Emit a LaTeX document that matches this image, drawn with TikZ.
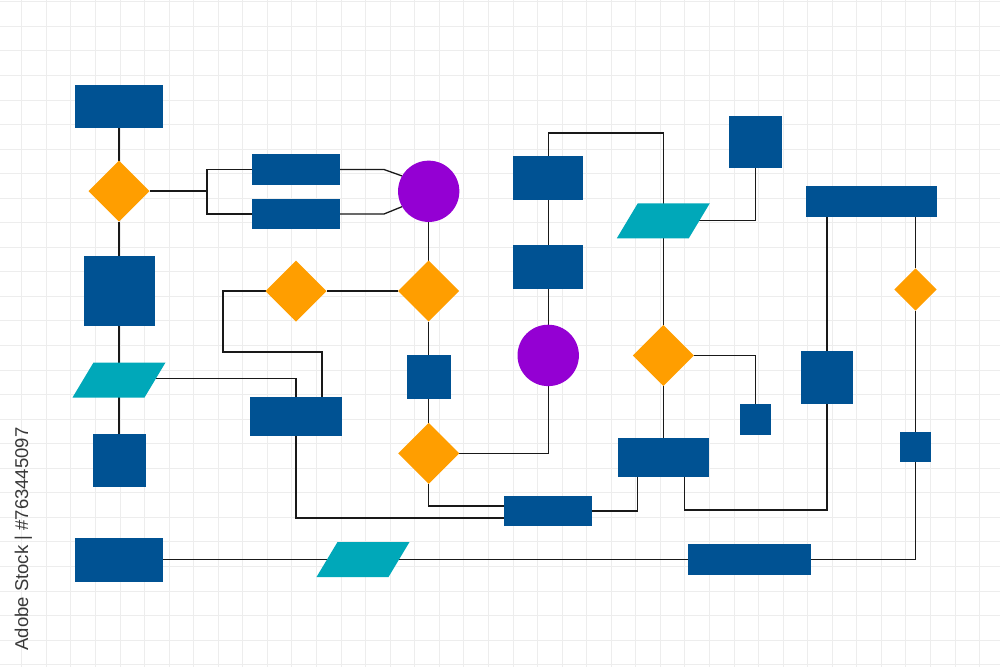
\documentclass[tikz,border=0pt]{standalone}
\usepackage{fontspec}
\setmainfont{Liberation Sans}
\usetikzlibrary{shapes.geometric,backgrounds}
\definecolor{fblue}{RGB}{0,82,147}
\definecolor{forange}{RGB}{255,158,0}
\definecolor{fpurple}{RGB}{148,0,211}
\definecolor{fteal}{RGB}{0,168,185}
\definecolor{gridc}{RGB}{237,237,237}
\definecolor{linec}{RGB}{25,25,25}
\newcommand\fillpara[1]{\fill[fteal] (#1.south west) -- ([xshift=-21pt]#1.south east) -- (#1.north east) -- ([xshift=21pt]#1.north west) -- cycle;}
\begin{document}
\begin{tikzpicture}[x=1pt,y=-1pt,
  blk/.style={rectangle, fill=fblue, inner sep=0pt, outer sep=0pt},
  dia/.style={diamond, fill=forange, inner sep=0pt, outer sep=0pt, aspect=1},
  circ/.style={circle, fill=fpurple, inner sep=0pt, outer sep=0pt},
  para/.style={rectangle, inner sep=0pt, outer sep=0pt,
    minimum width=93pt, minimum height=35pt},
  conn/.style={draw=linec, line width=1.3pt},
  gridline/.style={draw=gridc, line width=0.8pt}]
\useasboundingbox (0,0) rectangle (1000,667);

% left column
\node[blk, minimum width=88pt, minimum height=43.5pt] (R1) at (119,106.5) {};
\node[dia, minimum width=61pt, minimum height=61pt] (D1) at (119,191) {};
\node[blk, minimum width=71pt, minimum height=70pt] (RBig) at (119,291) {};
\node[para] (P1) at (119,380) {};
\node[blk, minimum width=53pt, minimum height=52.7pt] (RS1) at (119,460.7) {};
\node[blk, minimum width=88pt, minimum height=44pt] (RM) at (119,559.5) {};

% second column
\node[blk, minimum width=88pt, minimum height=30.5pt] (RA) at (296,169.5) {};
\node[blk, minimum width=88pt, minimum height=30.5pt] (RB) at (296,214) {};
\node[dia, minimum width=61pt, minimum height=61pt] (D2) at (296,291) {};
\node[blk, minimum width=91.4pt, minimum height=39.3pt] (RC) at (296,416.3) {};
\node[para] (P3) at (363,559.5) {};

% third column
\node[circ, minimum size=61.3pt] (C1) at (428.7,191.3) {};
\node[dia, minimum width=61pt, minimum height=61pt] (D3) at (428.7,291) {};
\node[blk, minimum width=43.7pt, minimum height=44pt] (Sq1) at (428.7,377) {};
\node[dia, minimum width=61pt, minimum height=61pt] (D4) at (428.7,453.3) {};

% fourth column
\node[blk, minimum width=70.3pt, minimum height=43.7pt] (RF) at (548.2,178) {};
\node[blk, minimum width=70.3pt, minimum height=43.7pt] (RG) at (548.2,266.8) {};
\node[circ, minimum size=61.4pt] (C2) at (548.2,355.4) {};
\node[blk, minimum width=88.3pt, minimum height=30.3pt] (RD) at (548,511) {};

% fifth column
\node[para] (P2) at (663.3,220.8) {};
\node[dia, minimum width=61pt, minimum height=61pt] (D5) at (663.3,355.5) {};
\node[blk, minimum width=91.3pt, minimum height=39pt] (RE) at (663.3,457.2) {};
\node[blk, minimum width=53pt, minimum height=52.6pt] (SqH) at (755.3,142) {};
\node[blk, minimum width=31pt, minimum height=30.7pt] (SqS) at (755.5,419.3) {};
\node[blk, minimum width=123pt, minimum height=30.3pt] (RL) at (749,559.5) {};

% right part
\node[blk, minimum width=130.7pt, minimum height=30.7pt] (RI) at (871.3,201.3) {};
\node[blk, minimum width=52.6pt, minimum height=53pt] (RJ) at (827,377.5) {};
\node[dia, minimum width=42.4pt, minimum height=42.4pt] (D6) at (915.5,289.5) {};
\node[blk, minimum width=30.7pt, minimum height=30.3pt] (RK) at (915.5,447) {};

% parallelogram fills
\fillpara{P1}
\fillpara{P2}
\fillpara{P3}

% side text
\node[rotate=90, font=\fontsize{18.5}{18.5}\selectfont, text=black!78, inner sep=0pt] (wm) at (23.5,539) {Adobe Stock | \#763445097};

\begin{scope}[on background layer]
  \fill[white] (0,0) rectangle (1000,667);
  \foreach \i in {0,...,41} \draw[gridline] ({21.7+24.56*(\i-1)},0) -- ++(0,667);
  \foreach \j in {0,...,27} \draw[gridline] (0,{1.7+24.55*\j}) -- ++(1000,0);

  \draw[conn] (R1) -- (D1);
  \draw[conn] (D1) -- (RBig);
  \draw[conn] (RBig) -- (P1.center);
  \draw[conn] (P1.center) -- (RS1);
  \draw[conn] (D1.east) -- (207,191) coordinate (br);
  \draw[conn] (RA.west) -| (br) |- (RB.west);
  \draw[conn] (RA.east) -- ++(44,0) -- (C1.150);
  \draw[conn] (RB.east) -- ++(44,0) -- (C1.210);
  \draw[conn] (C1) -- (D3);
  \draw[conn] (D3) -- (D2);
  \draw[conn] (D2.west) -| (223,352) -| (322,0 |- RC.north);
  \draw[conn] ([yshift=1.5pt]P1.center) -| (RC.north);
  \draw[conn] (RC.south) |- ([yshift=-7pt]RD.west);
  \draw[conn] (D3) -- (Sq1);
  \draw[conn] (Sq1) -- (D4);
  \draw[conn] (D4) -| (C2);
  \draw[conn] (D4.south) |- ([yshift=5pt]RD.west);
  \draw[conn] (RF.north) |- (P2.north |- 0,133) -- (P2.center);
  \draw[conn] (P2.center) -- (D5);
  \draw[conn] (RF) -- (RG);
  \draw[conn] (RG) -- (C2);
  \draw[conn] (P2.center) -| (SqH);
  \draw[conn] (D5) -| (SqS);
  \draw[conn] (D5) -- (RE);
  \draw[conn] (RD.east) -| (637.7,0 |- RE.south);
  \draw[conn] (684.3,0 |- RE.south) |- (RJ.south |- 0,510) -- (RJ.south);
  \draw[conn] (RI.south -| RJ.north) -- (RJ.north);
  \draw[conn] (RI.south -| D6.north) -- (D6);
  \draw[conn] (D6) -- (RK);
  \draw[conn] (RK.south) |- (RL.east);
  \draw[conn] (RM) -- (P3.center);
  \draw[conn] (P3.center) -- (RL);
\end{scope}
\end{tikzpicture}
\end{document}
